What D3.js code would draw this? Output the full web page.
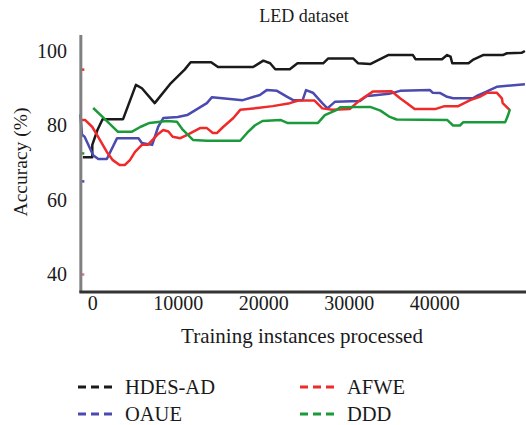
<!DOCTYPE html>
<html>
<head>
<meta charset="utf-8">
<script src="https://cdn.jsdelivr.net/npm/d3@7"></script>
<style>
body { margin: 0; background: #fff; }
text { font-family: "Liberation Serif", "Times New Roman", serif; fill: #1a1a1a; }
</style>
</head>
<body>
<svg width="526" height="425"></svg>
<script>
// Values: [instances, accuracy]

var hdesAd = [[-1100, 71.5], [0, 71.5], [0, 74.8], [600, 78.8], [1200, 81.7], [3600, 81.7], [5100, 90.9],
 [5800, 90], [7300, 86], [9200, 91.4], [10800, 95], [11500, 97], [13900, 97], [14700, 95.7], [18800, 95.7],
 [20000, 97.4], [20800, 96.7], [21400, 95.1], [23100, 95.1], [24000, 96.7], [27000, 96.7], [27600, 98],
 [30500, 98], [31100, 96.7], [32500, 96.5], [34600, 98.9], [37500, 98.9], [37800, 97.8], [40900, 97.8],
 [41500, 98.9], [41900, 98.5], [42100, 96.7], [44000, 96.7], [44500, 97.6], [45700, 98.9], [48000, 98.9],
 [48500, 99.4], [50200, 99.5], [50600, 100]];

var oaue = [[-1400, 83], [-1200, 77.5], [-900, 77], [100, 72], [700, 71], [1700, 71], [2900, 76.6],
 [5400, 76.6], [5800, 75.3], [7000, 74.8], [7700, 79.6], [8300, 82], [10000, 82.3], [11100, 82.8],
 [13400, 86], [14000, 87.6], [17600, 86.8], [19600, 88.2], [20400, 89.5], [21600, 89.3], [22800, 87.7],
 [23500, 86.8], [24600, 86.8], [25000, 89.5], [25800, 88.8], [26400, 87.3], [26900, 86], [27500, 84.6],
 [28400, 86.4], [31300, 86.6], [32100, 87.9], [32500, 88], [34700, 88.5], [36000, 89.3], [39500, 89.5],
 [39800, 88.8], [40700, 88.7], [41500, 87.7], [42200, 87.3], [44500, 87.3], [45100, 88.1], [46100, 89.1],
 [47300, 90.4], [50600, 91.1]];

var afwe = [[-1400, 81.5], [-850, 81.5], [0, 79.6], [700, 76.9], [1700, 72.9], [2400, 70.7], [3200, 69.4],
 [3800, 69.4], [4400, 70.7], [5000, 72.9], [5800, 74.8], [6500, 74.8], [7600, 77.5], [8300, 78.8],
 [8900, 78.4], [9400, 77], [10300, 76.6], [11100, 77.5], [12600, 79.3], [13400, 79.3], [14100, 78],
 [14600, 78], [15300, 79.6], [16500, 82], [17300, 84.2], [19300, 84.7], [21100, 85.2], [23100, 86],
 [24100, 86.7], [26000, 86.7], [26900, 84.6], [28100, 84.2], [30100, 84.4], [31300, 86.8], [32800, 89.1],
 [35000, 89.2], [36000, 87.3], [36800, 86], [37700, 84.4], [40100, 84.4], [41200, 85.2], [42800, 85.2],
 [44200, 86.8], [45300, 87.7], [46200, 88.8], [47300, 88.8], [47900, 87.3], [48000, 86], [48800, 84.2]];

var ddd = [[100, 84.7], [1200, 82.3], [3000, 78.3], [4600, 78.3], [5600, 79.6], [6700, 80.7], [8700, 81.2],
 [9900, 81], [10600, 78.8], [11800, 76.1], [13400, 75.9], [17300, 75.9], [18100, 78], [19000, 80],
 [19900, 81.2], [22000, 81.5], [22800, 80.7], [26400, 80.7], [27200, 82.8], [28600, 84.2], [29000, 84.9],
 [32500, 85], [33700, 84], [34800, 82.3], [35600, 81.6], [41500, 81.5], [42200, 80], [43000, 80],
 [43400, 80.9], [48300, 80.9], [48600, 82.6], [48850, 84.4]];

// short starting marks near the left axis
var stubs = [[-1400, 95, '#ee2a2a'], [-1400, 65, '#4a4ab0'], [-1400, 72.5, '#1a9a3a'], [-1400, 40, '#e070a0']];

var seriesNames = ['HDES-AD', 'OAUE', 'AFWE', 'DDD'];
var seriesData = [hdesAd, oaue, afwe, ddd];
var colors = ['#1a1a1a', '#4a4ab0', '#ee2a2a', '#1a9a3a'];
var xTicks = [0, 10000, 20000, 30000, 40000];
var yTicks = [40, 60, 80, 100];

var svg = d3.select('svg');

var x = d3.scaleLinear().domain([0, 40000]).range([92.3, 434.3]);
var y = d3.scaleLinear().domain([40, 100]).range([274.5, 51]);
var xMin = -1400, xMax = 50800, yMin = 35.3, yMax = 104.3;

// Title and axis labels

svg.append('text').attr('x', 304).attr('y', 22).attr('text-anchor', 'middle')
 .style('font-size', '18px').text('LED dataset');

svg.append('text').attr('x', 302).attr('y', 343).attr('text-anchor', 'middle')
 .style('font-size', '21px').text('Training instances processed');

svg.append('text').attr('transform', 'translate(27,162) rotate(-90)').attr('text-anchor', 'middle')
 .style('font-size', '19.5px').text('Accuracy (%)');

// Tick labels

var gx = svg.append('g').attr('transform', 'translate(0,' + 296 + ')')
 .call(d3.axisBottom(x).tickValues(xTicks).tickSize(0).tickPadding(0).tickFormat(d3.format('d')));
gx.select('.domain').remove();
gx.selectAll('text').style('font-size', '20px').style('font-family', '"Liberation Serif", serif')
 .attr('fill', '#1a1a1a').attr('dy', '0.71em');

var gy = svg.append('g').attr('transform', 'translate(67,0)')
 .call(d3.axisLeft(y).tickValues(yTicks).tickSize(0).tickPadding(0));
gy.select('.domain').remove();
gy.selectAll('text').style('font-size', '20px').style('font-family', '"Liberation Serif", serif')
 .attr('fill', '#1a1a1a');

// Lines

var line = d3.line().x(function(d) { return x(d[0]); }).y(function(d) { return y(d[1]); });

svg.append('g').selectAll('path')
 .data(seriesData)
 .enter().append('path')
 .attr('d', line)
 .attr('fill', 'none')
 .attr('stroke', function(d, i) { return colors[i]; })
 .attr('stroke-width', 2.5)
 .attr('stroke-linejoin', 'round');

svg.append('g').selectAll('line')
 .data(stubs)
 .enter().append('line')
 .attr('x1', function(d) { return x(d[0]); })
 .attr('x2', function(d) { return x(d[0]) + 4; })
 .attr('y1', function(d) { return y(d[1]); })
 .attr('y2', function(d) { return y(d[1]); })
 .attr('stroke', function(d) { return d[2]; })
 .attr('stroke-width', 2.5);

// Axis lines

svg.append('line').attr('x1', x(xMin) + 0.5).attr('x2', x(xMin) + 0.5)
 .attr('y1', y(yMax)).attr('y2', y(yMin))
 .attr('stroke', '#808080').attr('stroke-width', 3);

svg.append('line').attr('x1', x(xMin) - 1).attr('x2', x(xMax) + 10)
 .attr('y1', y(yMin)).attr('y2', y(yMin))
 .attr('stroke', '#333').attr('stroke-width', 3);

// Legend: two columns, two rows

var legend = svg.append('g').selectAll('g')
 .data(seriesNames)
 .enter().append('g')
 .attr('transform', function(d, i) {
  var col = (i === 2 || i === 3) ? 300 : 78;
  var row = (i === 0 || i === 2) ? 387 : 414;
  return 'translate(' + col + ',' + row + ')';
 });

legend.append('line')
 .attr('x1', 0).attr('x2', 35)
 .attr('stroke', function(d, i) { return colors[i]; })
 .attr('stroke-width', 3)
 .attr('stroke-dasharray', '8,5');

legend.append('text')
 .attr('x', 47).attr('y', 7)
 .style('font-size', '20.5px')
 .text(function(d) { return d; });
</script>
</body>
</html>
